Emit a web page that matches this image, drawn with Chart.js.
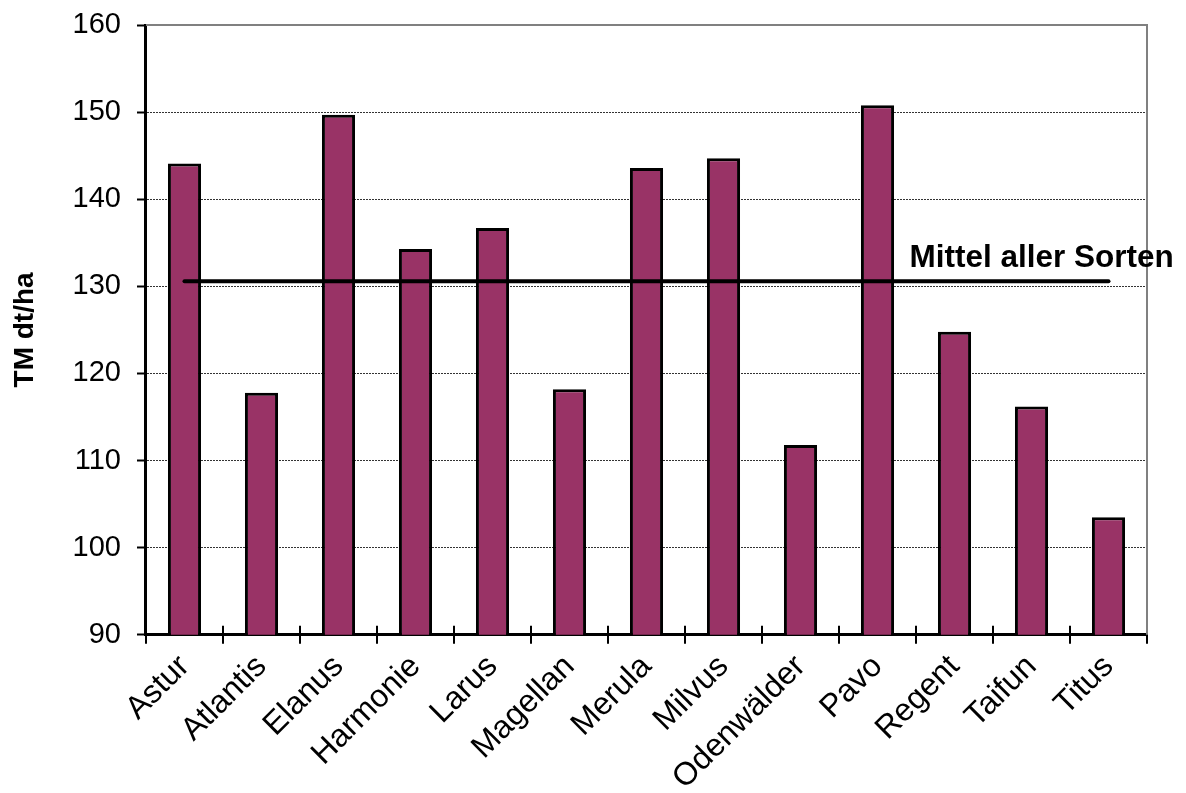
<!DOCTYPE html>
<html>
<head>
<meta charset="utf-8">
<script src="https://cdn.jsdelivr.net/npm/chart.js@4/dist/chart.umd.min.js"></script>
<style>
  html, body { margin: 0; padding: 0; background: #fff; }
  #wrap { width: 1186px; height: 793px; }
</style>
</head>
<body>
<div id="wrap"><canvas id="chart" width="1186" height="793"></canvas></div>
<script>
var sorten = ["Astur", "Atlantis", "Elanus", "Harmonie", "Larus", "Magellan", "Merula", "Milvus", "Odenwälder", "Pavo", "Regent", "Taifun", "Titus"];
var ertrag = [144.1, 117.8, 149.7, 134.3, 136.7, 118.2, 143.6, 144.7, 111.8, 150.8, 124.8, 116.2, 103.5];
var mittel = 130.6;
var mittelLabel = "Mittel aller Sorten";
var yTitle = "TM dt/ha";

var font = "'Liberation Sans', Arial, sans-serif";

//frame, small tick stubs, label for mean line
var framePlugin = {
  id: "frame",
  beforeDatasetsDraw: function(chart) {
    var a = chart.chartArea, c = chart.ctx;
    c.save();
    c.strokeStyle = "#808080";
    c.lineWidth = 2;
    c.beginPath();
    c.moveTo(a.left, a.top);
    c.lineTo(a.right, a.top);
    c.lineTo(a.right, a.bottom);
    c.stroke();
    c.restore();
  },
  afterDraw: function(chart) {
    var c = chart.ctx, a = chart.chartArea, xs = chart.scales.x;
    var step = (xs.getPixelForValue(1) - xs.getPixelForValue(0)) / 2;
    c.save();
    c.strokeStyle = "#000";
    c.lineWidth = 2;
    c.beginPath();
    for(var i = 1; i < sorten.length; i++) {
      var bx = Math.round(xs.getPixelForValue(i) - step);
      c.moveTo(bx, a.bottom);
      c.lineTo(bx, a.bottom - 9);
    };
    c.stroke();
    var y = chart.scales.y.getPixelForValue(mittel);
    var x = xs.getPixelForValue(9);
    c.font = "bold 31.5px " + font;
    c.fillStyle = "#000";
    c.textBaseline = "middle";
    c.fillText(mittelLabel, x + 32, y - 23);
    c.restore();
  }
};

new Chart(document.getElementById("chart"), {
  data: {
    labels: sorten,
    datasets: [
      {
        type: "line",
        data: sorten.map(function() { return mittel; }),
        borderColor: "#000",
        borderWidth: 4,
        borderCapStyle: "round",
        pointRadius: 0,
        order: 0
      },
      {
        type: "bar",
        data: ertrag,
        backgroundColor: "#993366",
        borderColor: "#000",
        borderWidth: 3,
        borderSkipped: "bottom",
        categoryPercentage: 1,
        barPercentage: 0.43,
        order: 1
      }
    ]
  },
  plugins: [framePlugin],
  options: {
    responsive: false,
    animation: false,
    layout: { padding: { top: 25, right: 39, left: 0, bottom: 0 } },
    plugins: { legend: { display: false }, tooltip: { enabled: false } },
    scales: {
      x: {
        offset: true,
        afterFit: function(scale) { scale.height -= 8; },
        grid: { offset: true, drawOnChartArea: false, drawTicks: true, tickLength: 9, color: "#000", lineWidth: 2 },
        border: { color: "#000", width: 3 },
        ticks: { autoSkip: false, maxRotation: 45, minRotation: 45, color: "#000", font: { family: font, size: 32 }, padding: 4 }
      },
      y: {
        min: 90,
        max: 160,
        afterFit: function(scale) { scale.paddingTop = 0; },
        ticks: { stepSize: 10, color: "#000", font: { family: font, size: 29 }, padding: 16 },
        grid: { color: "#333", lineWidth: 1, tickLength: 9, tickColor: "#000", tickWidth: 2, tickBorderDash: [0, 0] },
        border: { color: "#000", width: 3, dash: [2, 1] },
        title: { display: true, text: yTitle, color: "#000", font: { family: font, size: 28, weight: "bold" }, padding: { top: 8, bottom: 15 } }
      }
    }
  }
});
</script>
</body>
</html>
